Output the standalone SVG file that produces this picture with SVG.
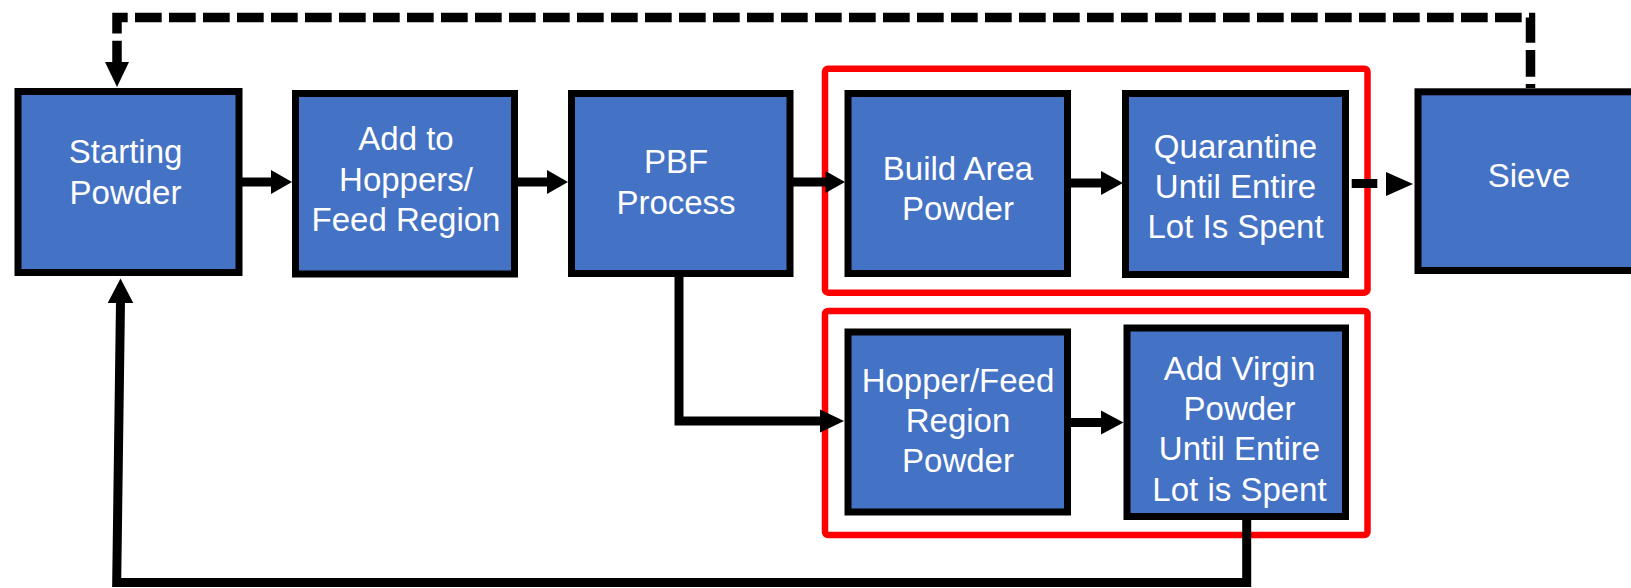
<svg xmlns="http://www.w3.org/2000/svg" width="1631" height="588" viewBox="0 0 1631 588">
  <style>
    .box { fill: #4472C4; stroke: #000000; stroke-width: 7; }
    .grp { fill: none; stroke: #FF0000; stroke-width: 6.5; }
    .lbl { fill: #FFFFFF; font-family: "Liberation Sans", Arial, sans-serif; font-size: 33px; text-anchor: middle; }
    .con { fill: none; stroke: #000000; stroke-width: 9; stroke-linejoin: miter; }
    .dash { fill: none; stroke: #000000; stroke-width: 9.5; stroke-dasharray: 26.7 7.3; }
    .head { fill: #000000; stroke: none; }
  </style>
  <rect width="1631" height="588" fill="#FFFFFF"/>

  <g id="group-build">
    <rect class="grp" x="825" y="68.7" width="542.5" height="224" rx="3"/>
  </g>
  <g id="group-hopper">
    <rect class="grp" x="825" y="311" width="542.5" height="224" rx="3"/>
  </g>

  <g id="connectors">
    <!-- Starting -> Add -->
    <line class="con" x1="242" y1="182" x2="273" y2="182"/>
    <polygon class="head" points="271,170 292,182 271,194"/>
    <!-- Add -> PBF -->
    <line class="con" x1="518" y1="182" x2="549" y2="182"/>
    <polygon class="head" points="547,170 568,182 547,194"/>
    <!-- PBF -> Build -->
    <line class="con" x1="793" y1="182" x2="827" y2="182"/>
    <polygon class="head" points="825.5,171 845,182 825.5,193"/>
    <!-- Build -> Quarantine -->
    <line class="con" x1="1071" y1="183" x2="1103" y2="183"/>
    <polygon class="head" points="1101,171 1123,183 1101,195"/>
    <!-- Quarantine -> Sieve (dashed) -->
    <path class="con" d="M1349,183.5 H1386" stroke-dasharray="25.6 8.7" stroke-dashoffset="-2.7"/>
    <polygon class="head" points="1386,172 1413,184 1386,196"/>
    <!-- Sieve -> Starting (dashed loop) -->
    <path class="dash" d="M1530.5,88 V17.5 H117 V62" stroke-dashoffset="22.7"/>
    <polygon class="head" points="105,62 117,87 129,62"/>
    <!-- PBF -> Hopper/Feed -->
    <path class="con" d="M679,277 V421 H822"/>
    <polygon class="head" points="820,409.5 844,421 820,432.5"/>
    <!-- Hopper/Feed -> Add Virgin -->
    <line class="con" x1="1071" y1="422.5" x2="1103" y2="422.5"/>
    <polygon class="head" points="1101,410.5 1123.5,422.5 1101,434.5"/>
    <!-- Add Virgin -> Starting -->
    <path class="con" d="M1246.7,520 V582.5 H116.7 L120.5,301" stroke-width="9.5"/>
    <polygon class="head" points="107.7,303 120.5,278.5 133.3,303"/>
  </g>

  <g id="starting-powder">
    <rect class="box" x="18" y="91.5" width="221" height="181"/>
    <text class="lbl" x="125.5" y="163.3">Starting</text>
    <text class="lbl" x="125.5" y="204">Powder</text>
  </g>
  <g id="add-to-hoppers">
    <rect class="box" x="295.5" y="93.5" width="219" height="180.5"/>
    <text class="lbl" x="406" y="150">Add to</text>
    <text class="lbl" x="406" y="190.7">Hoppers/</text>
    <text class="lbl" x="406" y="230.7">Feed Region</text>
  </g>
  <g id="pbf-process">
    <rect class="box" x="571.5" y="93.5" width="218.5" height="180"/>
    <text class="lbl" x="676" y="173">PBF</text>
    <text class="lbl" x="676" y="214">Process</text>
  </g>
  <g id="build-area-powder">
    <rect class="box" x="848" y="93.5" width="219.5" height="180"/>
    <text class="lbl" x="958" y="180">Build Area</text>
    <text class="lbl" x="958" y="220">Powder</text>
  </g>
  <g id="quarantine">
    <rect class="box" x="1125.5" y="93.5" width="220" height="181"/>
    <text class="lbl" x="1235.5" y="158">Quarantine</text>
    <text class="lbl" x="1235.5" y="198">Until Entire</text>
    <text class="lbl" x="1235.5" y="238">Lot Is Spent</text>
  </g>
  <g id="sieve">
    <rect class="box" x="1418" y="91.8" width="230" height="178.7"/>
    <text class="lbl" x="1529" y="187">Sieve</text>
  </g>
  <g id="hopper-feed-powder">
    <rect class="box" x="848" y="332" width="219.5" height="180"/>
    <text class="lbl" x="958" y="391.5">Hopper/Feed</text>
    <text class="lbl" x="958" y="432">Region</text>
    <text class="lbl" x="958" y="472">Powder</text>
  </g>
  <g id="add-virgin-powder">
    <rect class="box" x="1127" y="328" width="218.5" height="188.5"/>
    <text class="lbl" x="1239.5" y="379.5">Add Virgin</text>
    <text class="lbl" x="1239.5" y="419.8">Powder</text>
    <text class="lbl" x="1239.5" y="460.2">Until Entire</text>
    <text class="lbl" x="1239.5" y="500.5">Lot is Spent</text>
  </g>
</svg>
